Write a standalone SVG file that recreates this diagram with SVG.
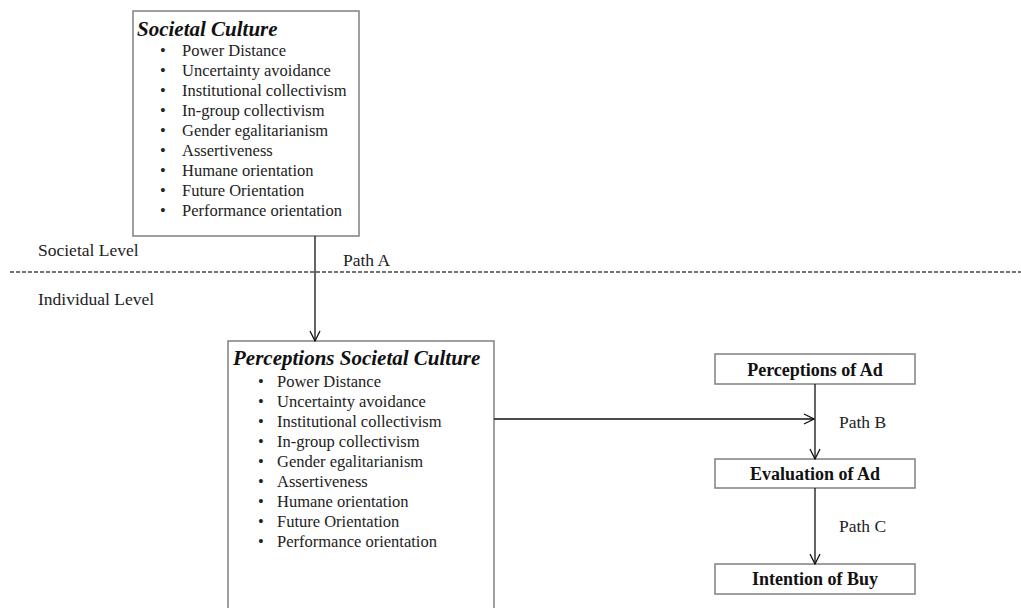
<svg xmlns="http://www.w3.org/2000/svg" width="1021" height="608" viewBox="0 0 1021 608">
  <style>
    .box { fill: #ffffff; stroke: #808080; stroke-width: 1.5; }
    .title { font-family: "Liberation Serif", "Times New Roman", serif; font-size: 21px; font-weight: bold; font-style: italic; fill: #111; }
    .item { font-family: "Liberation Serif", "Times New Roman", serif; font-size: 16.5px; fill: #222; }
    .bold { font-family: "Liberation Serif", "Times New Roman", serif; font-size: 18px; font-weight: bold; fill: #111; text-anchor: middle; }
    .label { font-family: "Liberation Serif", "Times New Roman", serif; font-size: 17.5px; fill: #222; }
    .conn { stroke: #111; stroke-width: 1.3; fill: none; }
    .divider { stroke: #444; stroke-width: 1.5; stroke-dasharray: 4 2; fill: none; }
  </style>
  <defs>
    <marker id="open-arrow" viewBox="0 0 12 12" refX="11" refY="6" markerWidth="12" markerHeight="12" markerUnits="userSpaceOnUse" orient="auto">
      <path d="M1,1 L11,6 L1,11" fill="none" stroke="#111" stroke-width="1.3"/>
    </marker>
  </defs>

  <rect width="1021" height="608" fill="#ffffff"/>

  <!-- level divider and level labels -->
  <line class="divider" x1="10" y1="272" x2="1021" y2="272"/>
  <text class="label" x="38" y="256">Societal Level</text>
  <text class="label" x="38" y="305">Individual Level</text>

  <!-- societal-level construct -->
  <g id="societal-culture">
    <rect class="box" x="133" y="11" width="226" height="225"/>
    <text class="title" x="137" y="36">Societal Culture</text>
    <g class="item">
      <text x="160" y="56">•</text><text x="182" y="56">Power Distance</text>
      <text x="160" y="76">•</text><text x="182" y="76">Uncertainty avoidance</text>
      <text x="160" y="96">•</text><text x="182" y="96">Institutional collectivism</text>
      <text x="160" y="116">•</text><text x="182" y="116">In-group collectivism</text>
      <text x="160" y="136">•</text><text x="182" y="136">Gender egalitarianism</text>
      <text x="160" y="156">•</text><text x="182" y="156">Assertiveness</text>
      <text x="160" y="176">•</text><text x="182" y="176">Humane orientation</text>
      <text x="160" y="196">•</text><text x="182" y="196">Future Orientation</text>
      <text x="160" y="216">•</text><text x="182" y="216">Performance orientation</text>
    </g>
  </g>

  <!-- individual-level construct -->
  <g id="perceptions-societal-culture">
    <rect class="box" x="228" y="341" width="266" height="290"/>
    <text class="title" x="233" y="365">Perceptions Societal Culture</text>
    <g class="item">
      <text x="258" y="387">•</text><text x="277" y="387">Power Distance</text>
      <text x="258" y="407">•</text><text x="277" y="407">Uncertainty avoidance</text>
      <text x="258" y="427">•</text><text x="277" y="427">Institutional collectivism</text>
      <text x="258" y="447">•</text><text x="277" y="447">In-group collectivism</text>
      <text x="258" y="467">•</text><text x="277" y="467">Gender egalitarianism</text>
      <text x="258" y="487">•</text><text x="277" y="487">Assertiveness</text>
      <text x="258" y="507">•</text><text x="277" y="507">Humane orientation</text>
      <text x="258" y="527">•</text><text x="277" y="527">Future Orientation</text>
      <text x="258" y="547">•</text><text x="277" y="547">Performance orientation</text>
    </g>
  </g>

  <g id="perceptions-of-ad">
    <rect class="box" x="715" y="354" width="200" height="30"/>
    <text class="bold" x="815" y="376">Perceptions of Ad</text>
  </g>

  <g id="evaluation-of-ad">
    <rect class="box" x="715" y="459" width="200" height="29"/>
    <text class="bold" x="815" y="480">Evaluation of Ad</text>
  </g>

  <g id="intention-of-buy">
    <rect class="box" x="715" y="564" width="200" height="30"/>
    <text class="bold" x="815" y="585">Intention of Buy</text>
  </g>

  <!-- connectors -->
  <g id="connectors">
    <line class="conn" x1="315" y1="236" x2="315" y2="341" marker-end="url(#open-arrow)"/>
    <line class="conn" x1="494" y1="419" x2="814" y2="419" marker-end="url(#open-arrow)"/>
    <line class="conn" x1="815" y1="384" x2="815" y2="459" marker-end="url(#open-arrow)"/>
    <line class="conn" x1="815" y1="488" x2="815" y2="564" marker-end="url(#open-arrow)"/>
    <text class="label" x="343" y="266">Path A</text>
    <text class="label" x="839" y="428">Path B</text>
    <text class="label" x="839" y="532">Path C</text>
  </g>
</svg>
